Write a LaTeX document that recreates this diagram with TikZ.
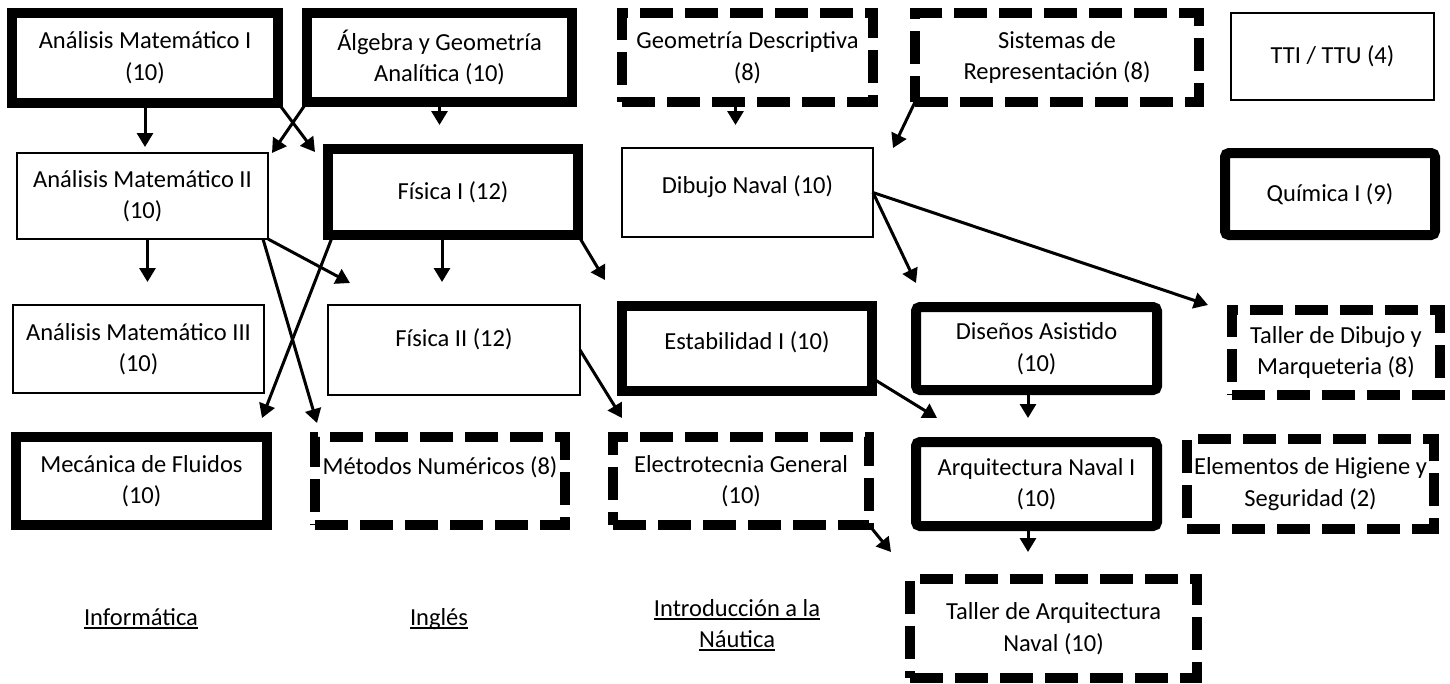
\documentclass[tikz,border=0pt]{standalone}
\usepackage{fontspec}
\setmainfont{Carlito}
\usetikzlibrary{arrows.meta}
\newcommand{\subline}[1]{\setbox0=\hbox{#1}\rlap{\rule[-3.5pt]{\wd0}{1.8pt}}\box0}
\begin{document}
\begin{tikzpicture}
    [
        x=1pt, y=-1pt,
        font=\fontsize{24.5pt}{31.5pt}\selectfont,
        dims/.style 2 args={minimum width=#1pt, minimum height=#2pt},
        course/.style={rectangle, align=center, inner sep=0pt, outer sep=0pt},
        plainbox/.style={course, draw, line width=2.5pt},
        heavybox/.style={course, draw, line width=10pt},
        dashbox/.style={course, draw, line width=10pt, dash pattern=on 33pt off 12pt},
        roundbox/.style={heavybox, rounded corners=4pt},
        lifted/.style={text depth=#1},
        extra/.style={align=center, inner sep=0pt},
        prereq/.style={-{Triangle[length=14pt,width=16pt]}, line width=3pt},
    ]
    \useasboundingbox (0,0) rectangle (1450,683);
    \node (am1) at (145,57.5) [heavybox, dims={265.5}{90}] {Análisis Matemático I\\(10)};
    \node (alg) at (439.5,57.5) [heavybox, dims={265}{89}] {Álgebra y Geometría\\Analítica (10)};
    \node (geo) at (747.5,57.5) [dashbox, dims={251}{89}] {Geometría Descriptiva\\(8)};
    \node (sis) at (1057,57.5) [dashbox, dims={284}{89}] {Sistemas de\\Representación (8)};
    \node (tti) at (1332.5,56.5) [plainbox, dims={203}{87}] {TTI / TTU (4)};
    \node (am2) at (142.5,196) [plainbox, dims={251}{86}] {Análisis Matemático II\\(10)};
    \node (fis1) at (453,192) [heavybox, dims={250}{86}] {Física I (12)};
    \node (dib) at (747.5,192.5) [plainbox, dims={251}{89}, lifted=16pt] {Dibujo Naval (10)};
    \node (qui) at (1330,194) [roundbox, dims={210}{82}] {Química I (9)};
    \node (am3) at (138.5,349) [plainbox, dims={251}{88}] {Análisis Matemático III\\(10)};
    \node (fis2) at (454,350) [plainbox, dims={252}{90}, lifted=25pt] {Física II (12)};
    \node (est) at (747,348.5) [heavybox, dims={250}{85}, lifted=16pt] {Estabilidad I (10)};
    \node (dis) at (1036.5,348.5) [roundbox, dims={241}{83}] {Diseños Asistido\\(10)};
    \node (tdm) at (1336,352.5) [dashbox, dims={208}{85}] {Taller de Dibujo y\\Marqueteria (8)};
    \node (mec) at (141.5,481) [heavybox, dims={251}{88}] {Mecánica de Fluidos\\(10)};
    \node (met) at (440,481) [dashbox, dims={250}{88}, lifted=31pt] {Métodos Numéricos (8)};
    \node (ele) at (741,481) [dashbox, dims={256}{88}] {Electrotecnia General\\(10)};
    \node (arq) at (1036.5,484) [roundbox, dims={241}{84}] {Arquitectura Naval I\\(10)};
    \node (hig) at (1310.5,484) [dashbox, dims={247}{90}] {Elementos de Higiene y\\Seguridad (2)};
    \node (tan) at (1053.5,628.5) [dashbox, dims={287}{99}] {Taller de Arquitectura\\Naval (10)};
    \node (inf) at (141,625) [extra, anchor=base] {\subline{Informática}};
    \node (ing) at (439,625) [extra, anchor=base] {\subline{Inglés}};
    \node (nau) at (737,625) [extra] {\subline{Introducción a la}\\\subline{Náutica}};
    \draw [prereq, shorten >=6pt] (am1.south) -- (am1.south |- am2.north);
    \draw [prereq] (am1.south east) -- ([xshift=-13pt,yshift=-3pt]fis1.north west);
    \draw [prereq] (alg.south west) -- ([xshift=4pt]am2.north east);
    \draw [prereq, shorten >=24pt] (alg.south) -- (alg.south |- fis1.north);
    \draw [prereq, shorten >=23pt] ([xshift=-12pt]geo.south) -- ([xshift=-12pt]geo.south |- dib.north);
    \draw [prereq] (sis.south west) -- ([xshift=20pt]dib.north east);
    \draw [prereq, shorten >=23pt] ([xshift=5pt]am2.south) -- ([xshift=5pt]am2.south |- am3.north);
    \draw [prereq] (am2.south east) -- ([xshift=22pt,yshift=22pt]fis2.north west);
    \draw [prereq] ([xshift=-5pt]am2.south east) -- ([xshift=2pt,yshift=14pt]met.north west);
    \draw [prereq] ([xshift=5pt]fis1.south west) -- ([xshift=-5pt,yshift=19pt]mec.north east);
    \draw [prereq, shorten >=23pt] ([xshift=-11pt]fis1.south) -- ([xshift=-11pt]fis1.south |- fis2.north);
    \draw [prereq] (fis1.south east) -- ([xshift=-17pt,yshift=26pt]est.north west);
    \draw [prereq] (dib.east) -- ([yshift=24pt]dis.north west);
    \draw [prereq] (dib.east) -- ([xshift=-24pt,yshift=5pt]tdm.north west);
    \draw [prereq] (fis2.east) -- ([xshift=9pt,yshift=19pt]ele.north west);
    \draw [prereq] ([yshift=13pt]est.south east) -- ([xshift=21pt,yshift=24pt]arq.north west);
    \draw [prereq, shorten >=24pt] ([xshift=-8.5pt]dis.south) -- ([xshift=-8.5pt]dis.south |- arq.north);
    \draw [prereq] (ele.south east) -- ([xshift=-19pt,yshift=27pt]tan.north west);
    \draw [prereq, shorten >=27pt] ([xshift=-8.5pt]arq.south) -- ([xshift=-8.5pt]arq.south |- tan.north);
\end{tikzpicture}
\end{document}
